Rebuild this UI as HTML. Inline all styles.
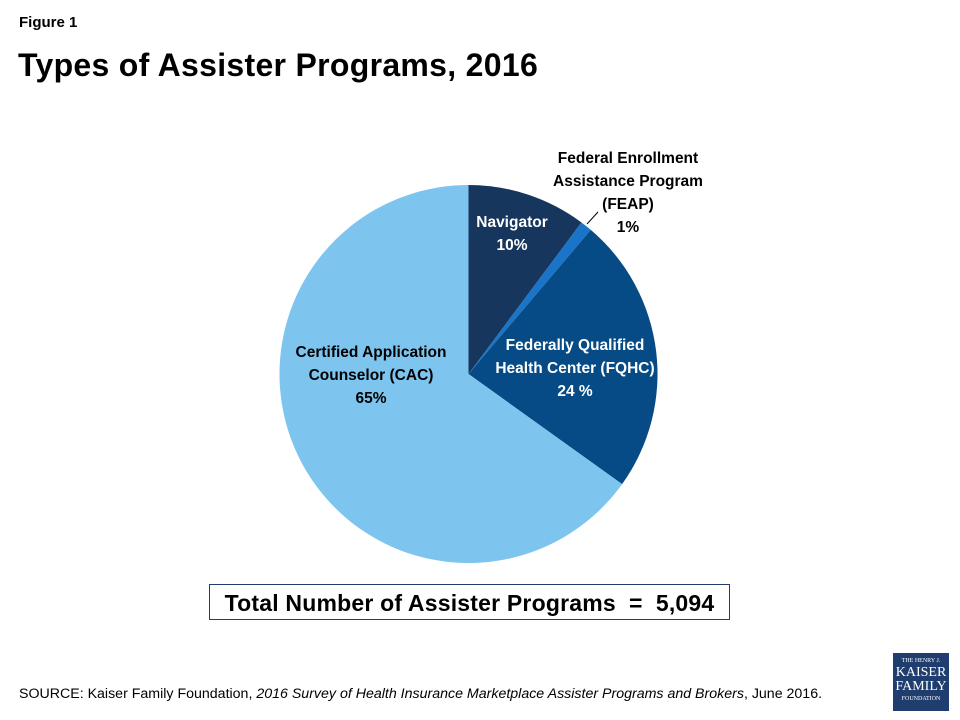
<!DOCTYPE html>
<html><head><meta charset="utf-8"><style>
body{margin:0;width:960px;height:720px;background:#fff;font-family:"Liberation Sans",sans-serif;overflow:hidden;position:relative}
.t{position:absolute;margin:0;color:#000}
</style></head><body>
<div class="t" style="left:19px;top:14px;font-size:15px;font-weight:bold">Figure 1</div>
<div class="t" style="left:18px;top:47px;font-size:32px;font-weight:bold;letter-spacing:0.3px">Types of Assister Programs, 2016</div>
<svg id="pie" width="960" height="720" style="position:absolute;left:0;top:0"></svg>
<div style="position:absolute;left:209px;top:584px;width:521px;height:36px;border:1px solid #1f3d6e;box-sizing:border-box;font-size:23px;font-weight:bold;text-align:center;line-height:36px;letter-spacing:0.2px">Total Number of Assister Programs &nbsp;= &nbsp;5,094</div>
<div class="t" style="left:19px;top:686px;font-size:14.2px">SOURCE: Kaiser Family Foundation, <i>2016 Survey of Health Insurance Marketplace Assister Programs and Brokers</i>, June 2016.</div>
<div style="position:absolute;left:893px;top:653px;width:56px;height:58px;background:#1f3d6e;color:#fff;font-family:'Liberation Serif',serif;text-align:center;line-height:1">
<div style="font-size:6px;margin-top:5px">THE HENRY J.</div>
<div style="font-size:14px;margin-top:2px">KAISER</div>
<div style="font-size:14px">FAMILY</div>
<div style="font-size:6px;margin-top:2px">FOUNDATION</div></div>
<script>
const categories=["Navigator","FEAP","FQHC","CAC"];
const values=[10.2,1.0,23.7,65.1];
const colors=["#17365d","#1a75c8","#064b85","#7dc5ee"];
const cx=468.5,cy=374,r=189;
const svg=document.getElementById('pie');
const NS="http://www.w3.org/2000/svg";
const total=values.reduce((a,b)=>a+b,0);
let acc=0;
function pt(frac,rad){const a=frac*2*Math.PI;return [cx+rad*Math.sin(a),cy-rad*Math.cos(a)];}
values.forEach((v,i)=>{
  const f0=acc/total,f1=(acc+v)/total;acc+=v;
  const [x0,y0]=pt(f0,r),[x1,y1]=pt(f1,r);
  const p=document.createElementNS(NS,'path');
  p.setAttribute('d',`M${cx},${cy}L${x0},${y0}A${r},${r} 0 ${f1-f0>0.5?1:0} 1 ${x1},${y1}Z`);
  p.setAttribute('fill',colors[i]);
  
  
  svg.appendChild(p);
});
const labels=[
 {lines:["Navigator","10%"],x:512,y:222,c:"#fff"},
 {lines:["Federal Enrollment","Assistance Program","(FEAP)","1%"],x:628,y:158,c:"#000"},
 {lines:["Federally Qualified","Health Center (FQHC)","24 %"],x:575,y:345,c:"#fff"},
 {lines:["Certified Application","Counselor (CAC)","65%"],x:371,y:352,c:"#000"}];
labels.forEach((l,i)=>{
  const t=document.createElementNS(NS,'text');
  t.setAttribute('text-anchor','middle');t.setAttribute('font-size','15.5');t.setAttribute('font-weight','bold');
  t.setAttribute('fill',l.c);t.setAttribute('font-family','Liberation Sans, sans-serif');
  
  
  l.lines.forEach((s,j)=>{const ts=document.createElementNS(NS,'tspan');ts.setAttribute('x',l.x);ts.setAttribute('y',l.y+5+j*23);ts.textContent=s;t.appendChild(ts);});
  svg.appendChild(t);
});
const ln=document.createElementNS(NS,'line');
ln.setAttribute('x1',587);ln.setAttribute('y1',224);ln.setAttribute('x2',598);ln.setAttribute('y2',212);
ln.setAttribute('stroke','#000');ln.setAttribute('stroke-width','1');


svg.appendChild(ln);
</script>
</body></html>
